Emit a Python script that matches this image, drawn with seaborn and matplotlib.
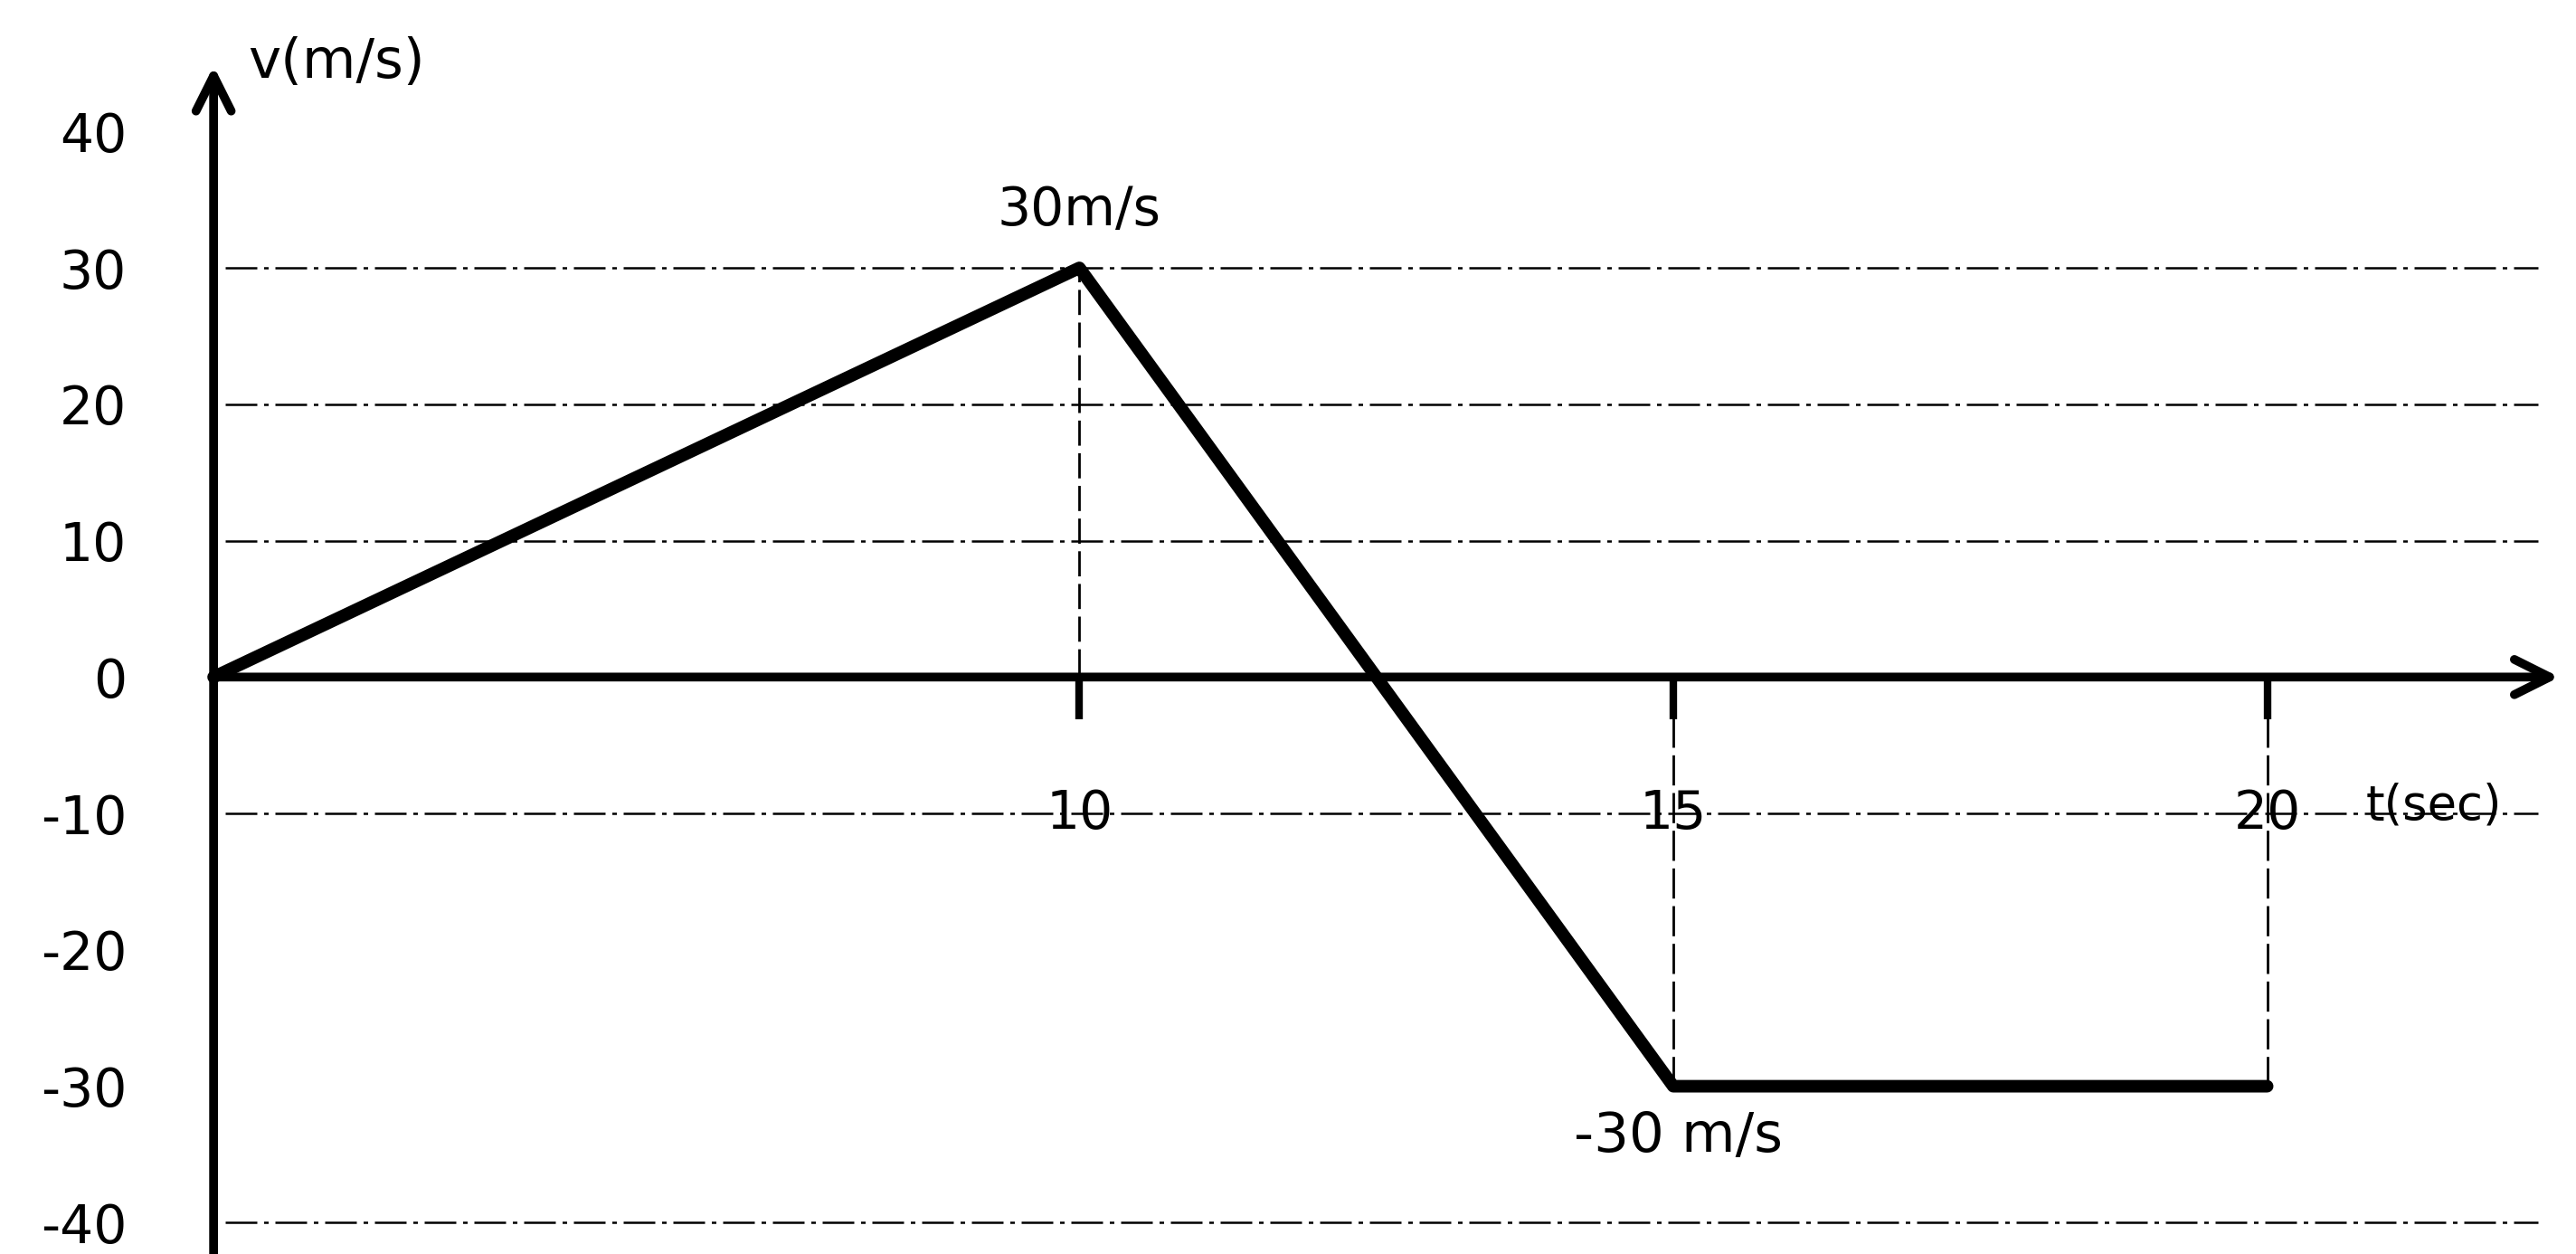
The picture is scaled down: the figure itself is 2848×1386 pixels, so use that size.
import numpy as np
import matplotlib
matplotlib.use("Agg")
import matplotlib.pyplot as plt
import seaborn as sns

# v-t sketch values
time_s = [0, 10, 15, 20]
velocity = [0, 30, -30, -30]

y_ticks = [40, 30, 20, 10, 0, -10, -20, -30, -40]
y_labels = ["40", "30", "20", "10", "0", "-10", "-20", "-30", "-40"]
x_ticks = [10, 15, 20]
x_labels = ["10", "15", "20"]
grid_levels = [30, 20, 10, -10, -40]

peak_label = "30m/s"
low_label = "-30 m/s"

# the sketch is not to scale along t: 0-10 is drawn narrower than 10-20
T_KNOTS = [-10, 0, 10, 20, 40]
P_KNOTS = [-527, 0, 527, 1250, 2696]


def fwd(x):
    return np.interp(x, T_KNOTS, P_KNOTS)


def inv(p):
    return np.interp(p, P_KNOTS, T_KNOTS)


sns.set_theme(style="white")
plt.rcParams["font.family"] = ["DejaVu Sans"]

fig = plt.figure(figsize=(28.48, 13.86), dpi=100)
ax = fig.add_axes([0, 0, 1, 1])
ax.set_xscale("function", functions=(fwd, inv))
ax.set_xlim(-2.467, 22.6)
ax.set_ylim(-42.3, 49.64)

# dash-dot guide lines
ax.hlines(grid_levels, 0.13, 22.28, colors="black", lw=1.8,
          linestyles=[(0, (14, 3, 2, 3))], zorder=2)

# vertical guides down to the axis / from the axis
ax.vlines(time_s[1], -2.2, velocity[1], colors="black", lw=2,
          linestyles=[(0, (10, 3))], zorder=2)
ax.vlines(time_s[2:], velocity[2:], 0, colors="black", lw=2,
          linestyles=[(0, (12, 3))], zorder=2)

sns.lineplot(x=time_s, y=velocity, ax=ax, color="black", lw=10,
             sort=False, estimator=None, zorder=4)

# axes with arrowheads
for side in ["left", "bottom"]:
    ax.spines[side].set_position(("data", 0))
    ax.spines[side].set_visible(False)
for side in ["right", "top"]:
    ax.spines[side].set_visible(False)

ax.annotate("", xy=(22.46, 0), xytext=(0, 0),
            arrowprops=dict(arrowstyle="->", lw=7, color="black",
                            mutation_scale=70, shrinkA=0, shrinkB=0), zorder=5)
ax.annotate("", xy=(0, 44.8), xytext=(0, -42.3),
            arrowprops=dict(arrowstyle="->", lw=7, color="black",
                            mutation_scale=70, shrinkA=0, shrinkB=0), zorder=5)

ax.set_yticks(y_ticks, y_labels)
ax.set_xticks(x_ticks, x_labels)
ax.xaxis.set_minor_locator(matplotlib.ticker.NullLocator())
ax.tick_params(axis="y", length=0, pad=69, labelsize=42, labelcolor="black")
ax.tick_params(axis="x", direction="out", length=34, width=6, pad=54,
               labelsize=42, labelcolor="black", color="black", bottom=True)
ax.grid(False)

ax.text(0.4, 45, "v(m/s)", fontsize=44, ha="left", va="center", color="black")
ax.text(time_s[1], 34.2, peak_label, fontsize=42, ha="center", va="center", color="black")
ax.text(15.04, -33.7, low_label, fontsize=44, ha="center", va="center", color="black")
ax.text(20.83, -9.4, "t(sec)", fontsize=38, ha="left", va="center", color="black")

fig.savefig("out.png", dpi=100)
